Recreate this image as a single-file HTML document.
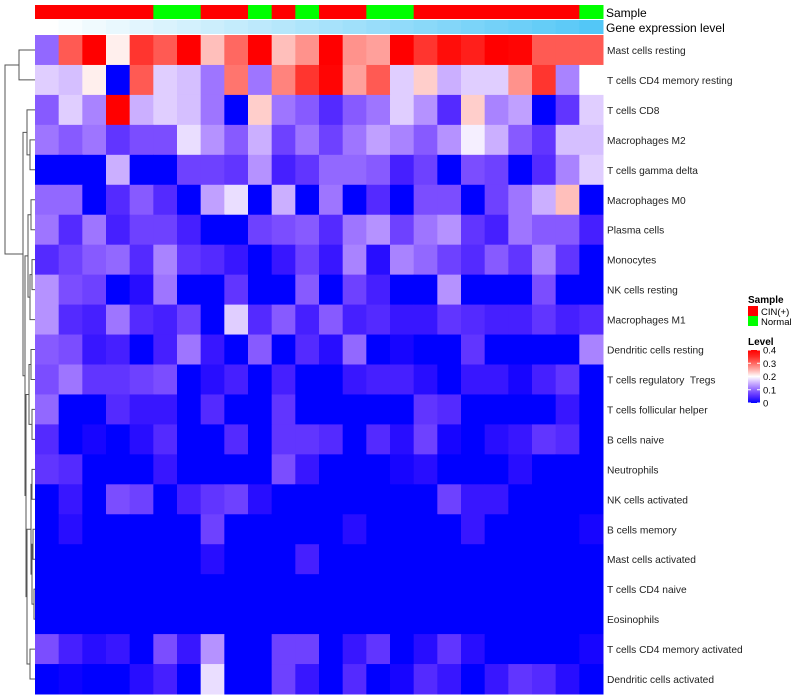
<!DOCTYPE html>
<html><head><meta charset="utf-8"><style>
body{margin:0;background:#fff;}
svg{display:block;font-family:"Liberation Sans",sans-serif;}
text{white-space:pre;}
</style></head><body>
<svg id="chart" width="800" height="700"></svg>
<script>
const rowLabels=["Mast cells resting","T cells CD4 memory resting","T cells CD8","Macrophages M2","T cells gamma delta","Macrophages M0","Plasma cells","Monocytes","NK cells resting","Macrophages M1","Dendritic cells resting","T cells regulatory  Tregs","T cells follicular helper","B cells naive","Neutrophils","NK cells activated","B cells memory","Mast cells activated","T cells CD4 naive","Eosinophils","T cells CD4 memory activated","Dendritic cells activated"];
const sampleGroups=["CIN","CIN","CIN","CIN","CIN","Normal","Normal","CIN","CIN","Normal","CIN","Normal","CIN","CIN","Normal","Normal","CIN","CIN","CIN","CIN","CIN","CIN","CIN","Normal"];
const geneLevel=[0,0.04,0.08,0.12,0.16,0.2,0.24,0.28,0.32,0.36,0.4,0.44,0.48,0.52,0.56,0.6,0.64,0.68,0.72,0.76,0.8,0.84,0.88,0.94];
const r0=[0.1,0.31,0.4,0.21,0.34,0.31,0.4,0.24,0.3,0.4,0.24,0.27,0.4,0.27,0.26,0.4,0.34,0.38,0.36,0.4,0.39,0.31,0.31,0.31];
const r1=[0.17,0.16,0.21,0,0.31,0.17,0.16,0.11,0.29,0.11,0.28,0.34,0.39,0.26,0.31,0.17,0.23,0.15,0.17,0.17,0.27,0.34,0.12,0.2];
const r2=[0.09,0.17,0.12,0.4,0.15,0.17,0.16,0.11,0,0.23,0.11,0.09,0.05,0.09,0.11,0.17,0.13,0.05,0.23,0.12,0.14,0,0.06,0.17];
const r3=[0.11,0.09,0.11,0.06,0.08,0.08,0.18,0.13,0.09,0.15,0.07,0.11,0.07,0.11,0.14,0.12,0.09,0.13,0.19,0.15,0.09,0.06,0.16,0.16];
const r4=[0,0,0,0.15,0,0,0.07,0.07,0.06,0.13,0.04,0.06,0.1,0.1,0.09,0.04,0.07,0,0.08,0.07,0,0.05,0.12,0.17];
const r5=[0.1,0.1,0,0.05,0.09,0.05,0,0.14,0.18,0,0.15,0,0.11,0,0.05,0,0.08,0.08,0,0.07,0.11,0.15,0.24,0];
const r6=[0.11,0.05,0.11,0.04,0.07,0.07,0.04,0,0,0.07,0.08,0.09,0.05,0.11,0.13,0.07,0.11,0.13,0.06,0.04,0.11,0.09,0.09,0.04];
const r7=[0.05,0.07,0.09,0.1,0.05,0.12,0.06,0.05,0.03,0,0.03,0.07,0.03,0.12,0.02,0.12,0.1,0.07,0.05,0.09,0.06,0.12,0.06,0];
const r8=[0.13,0.08,0.07,0,0.02,0.11,0,0,0.06,0,0,0.09,0,0.07,0.04,0,0,0.13,0,0,0,0.08,0,0];
const r9=[0.13,0.05,0.04,0.11,0.05,0.04,0.07,0,0.17,0.05,0.09,0.04,0.09,0.04,0.05,0.03,0.03,0.06,0.05,0.04,0.04,0.06,0.04,0.05];
const r10=[0.09,0.08,0.03,0.04,0,0.04,0.11,0.03,0,0.09,0,0.05,0.02,0.1,0,0.01,0,0,0.06,0,0,0,0,0.12];
const r11=[0.08,0.11,0.06,0.06,0.07,0.08,0,0.02,0.04,0,0.04,0,0,0.03,0.04,0.04,0.02,0,0.03,0.03,0.01,0.04,0.06,0];
const r12=[0.1,0,0,0.05,0.03,0.03,0,0.05,0,0,0.06,0,0,0,0,0,0.06,0.05,0,0,0,0,0.03,0];
const r13=[0.05,0,0.01,0,0.02,0.05,0,0,0.05,0,0.06,0.06,0.05,0,0.05,0.02,0.07,0.01,0,0.02,0.03,0.06,0.05,0];
const r14=[0.06,0.05,0,0,0,0.03,0,0,0,0,0.08,0.03,0,0,0,0.01,0.02,0,0,0,0.02,0,0,0];
const r15=[0,0.03,0,0.08,0.07,0,0.04,0.06,0.07,0.02,0,0,0,0,0,0,0,0.07,0.03,0.03,0,0,0,0];
const r16=[0,0.02,0,0,0,0,0,0.07,0,0,0,0,0,0.02,0,0,0,0,0.03,0,0,0,0,0.01];
const r17=[0,0,0,0,0,0,0,0.02,0,0,0,0.04,0,0,0,0,0,0,0,0,0,0,0,0];
const r18=[0,0,0,0,0,0,0,0,0,0,0,0,0,0,0,0,0,0,0,0,0,0,0,0];
const r19=[0,0,0,0,0,0,0,0,0,0,0,0,0,0,0,0,0,0,0,0,0,0,0,0];
const r20=[0.08,0.04,0.02,0.03,0,0.08,0.03,0.13,0,0,0.07,0.07,0,0.03,0.06,0,0.02,0.06,0.02,0,0,0,0,0.01];
const r21=[0,0.005,0,0,0.02,0.04,0,0.18,0,0,0.07,0.03,0,0.05,0,0.01,0.05,0.03,0,0.03,0.06,0.05,0.02,0];
const values=[r0,r1,r2,r3,r4,r5,r6,r7,r8,r9,r10,r11,r12,r13,r14,r15,r16,r17,r18,r19,r20,r21];
const legendTicks=[0,0.1,0.2,0.3,0.4];
const merges=[["L3","L4",30],["L2","M0",27],["L5","L6",31],["L7","L8",32],["M3","L9",30],["M2","M4",28],["L10","L11",31],["L12","L13",32],["M6","M7",29],["L14","L15",32],["L16","L17",33],["L18","L19",34],["M10","M11",32],["M9","M12",31],["L20","L21",30],["M13","M14",27],["M8","M15",26],["M5","M16",25],["M1","M17",23],["L0","L1",19],["M19","M18",5]];

const NS="http://www.w3.org/2000/svg";
const svg=document.getElementById("chart");
function mk(t,a,p){const e=document.createElementNS(NS,t);for(const k in a)e.setAttribute(k,a[k]);(p||svg).appendChild(e);return e;}
const X0=35,X1=603,Y0=35,Y1=694;
const nC=values[0].length,nR=values.length;
const cw=(X1-X0)/nC,rh=(Y1-Y0)/nR;
const xPos=c=>X0+c*cw, yPos=r=>Y0+r*rh;
function colorOf(v){const t=Math.max(0,Math.min(1,v/0.4));let r,g,b;
 if(t<0.5){const u=t/0.5;r=Math.round(255*Math.pow(u,0.8));g=Math.round(255*Math.pow(u,1.3));b=255;}
 else{const u=(t-0.5)/0.5;r=255;g=Math.round(255*Math.pow(1-u,1.3));b=Math.round(255*Math.pow(1-u,1.4));}
 return `rgb(${r},${g},${b})`;}
function geneColor(v){const r=Math.round(255-(255-72)*v),g=Math.round(255-(255-195)*v),b=Math.round(255-(255-246)*v);return `rgb(${r},${g},${b})`;}

const ga=mk("g",{});


sampleGroups.forEach((s,c)=>{const e=mk("rect",{x:xPos(c),y:5,width:cw+0.5,height:14,fill:s==="CIN"?"#ff0000":"#00ff00"},ga);

});
const gg=mk("g",{});


geneLevel.forEach((v,c)=>{const e=mk("rect",{x:xPos(c),y:20,width:cw+0.5,height:14,fill:geneColor(v)},gg);

});
let t=mk("text",{x:606,y:17,"font-size":12,fill:"#000"});t.textContent="Sample";


t=mk("text",{x:606,y:32,"font-size":12,fill:"#000"});t.textContent="Gene expression level";



const gh=mk("g",{});


values.forEach((row,r)=>row.forEach((v,c)=>{const e=mk("rect",{x:xPos(c),y:yPos(r),width:cw+0.5,height:rh+0.5,fill:colorOf(v)},gh);

}));
rowLabels.forEach((l,r)=>{const e=mk("text",{x:607,y:yPos(r)+rh/2+4,"font-size":10.2,fill:"#222"});e.textContent=l;

});

const gd=mk("g",{stroke:"#555","stroke-width":1,fill:"none"});


const pos={};
for(let i=0;i<nR;i++)pos["L"+i]={y:yPos(i)+rh/2,x:X0};
merges.forEach((m,k)=>{const a=pos[m[0]],b=pos[m[1]],h=m[2];
 mk("path",{d:`M${a.x},${a.y}H${h}V${b.y}H${b.x}`},gd);
 pos["M"+k]={x:h,y:(a.y+b.y)/2};});

t=mk("text",{x:748,y:303,"font-size":10,"font-weight":"bold"});t.textContent="Sample";


[["CIN(+)","#ff0000"],["Normal","#00ff00"]].forEach((d,i)=>{
 const r=mk("rect",{x:748,y:306+i*10,width:10,height:10,fill:d[1]});
 
 
 const tx=mk("text",{x:761,y:315+i*10,"font-size":9.5});tx.textContent=d[0];
 
 });
t=mk("text",{x:748,y:345,"font-size":10,"font-weight":"bold"});t.textContent="Level";


const defs=mk("defs",{});
const lg=mk("linearGradient",{id:"lvl",x1:0,y1:1,x2:0,y2:0},defs);
[0,0.125,0.25,0.375,0.5,0.625,0.75,0.875,1].forEach(f=>mk("stop",{offset:f,"stop-color":colorOf(f*0.4)},lg));
const cb=mk("rect",{x:748,y:350,width:12,height:53,fill:"url(#lvl)"});


legendTicks.forEach(v=>{const y=403-v/0.4*53;
 mk("line",{x1:748,x2:751,y1:y,y2:y,stroke:"#fff"});mk("line",{x1:757,x2:760,y1:y,y2:y,stroke:"#fff"});
 const tx=mk("text",{x:763,y:y+3.5,"font-size":9.5});tx.textContent=String(v);
 
 });
</script>
</body></html>
